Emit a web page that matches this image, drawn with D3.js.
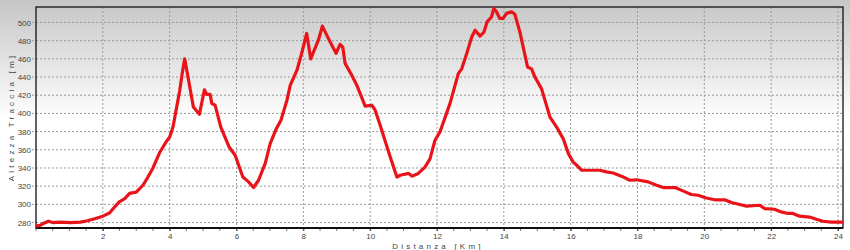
<!DOCTYPE html>
<html>
<head>
<meta charset="utf-8">
<script src="https://cdn.jsdelivr.net/npm/d3@7"></script>
<style>
  body { margin: 0; background: #fff; }
  svg { display: block; }
  .tick text { font-family: "Liberation Sans", Arial, sans-serif; font-size: 8px; fill: #444; }
  .label { font-family: "Liberation Sans", Arial, sans-serif; font-size: 8px; fill: #444; letter-spacing: 3.2px; }
</style>
</head>
<body>
<div class="chart"></div>
<script>
// track profile: distance (km) and altitude (m)
const dist = [0, 0.13, 0.22, 0.37, 0.5, 0.73, 1.03, 1.33, 1.54, 1.78, 2.0, 2.2, 2.35, 2.5, 2.65, 2.8, 3.0, 3.2, 3.35, 3.5, 3.7, 3.9, 4.0, 4.1, 4.2, 4.3, 4.38, 4.45,
  4.71, 4.89, 5.04, 5.11, 5.21, 5.26, 5.36, 5.53, 5.78, 5.96, 6.19, 6.36, 6.51, 6.66, 6.86, 7.01, 7.19, 7.33, 7.51, 7.61, 7.81, 7.95, 8.1, 8.22,
  8.45, 8.57, 8.8, 8.98, 9.1, 9.18, 9.25, 9.45, 9.6, 9.85, 10.05, 10.15, 10.3, 10.6, 10.8, 10.9, 11.15, 11.26, 11.44, 11.64, 11.79, 11.94,
  12.09, 12.39, 12.64, 12.74, 12.89, 13.04, 13.14, 13.29, 13.41, 13.5, 13.63, 13.7, 13.78, 13.88, 13.98, 14.08, 14.23, 14.33, 14.48, 14.6,
  14.71, 14.83, 14.93, 15.13, 15.38, 15.58, 15.78, 15.93, 16.07, 16.18, 16.33, 16.87, 17.07, 17.27, 17.52, 17.77, 17.97, 18.32, 18.57, 18.77,
  19.12, 19.36, 19.61, 19.81, 20.06, 20.31, 20.61, 20.81, 21.06, 21.26, 21.66, 21.81, 22.1, 22.3, 22.5, 22.65, 22.85, 23.15, 23.35, 23.55,
  23.8, 24.15]
const alt = [276, 277, 279, 281.5, 280, 280.5, 280, 280.5, 282, 284.5, 287, 290.5, 297, 303, 306, 312, 313.5, 321, 330, 340, 357, 369, 374, 385, 405, 425, 445, 460,
  407, 399, 426, 421, 421, 411, 409, 385, 363, 354, 330, 324.7, 318.5, 326.5, 345, 367, 383, 392.5, 414.5, 431, 447.5, 466, 488, 460,
  480.5, 496, 478.7, 466, 476, 473, 455, 442, 431, 408, 409, 403.5, 387, 352, 330, 332, 334, 331, 334, 341, 350, 370.5,
  379.7, 411, 444, 449, 466, 484, 491.5, 485, 489.7, 500.7, 506, 515.4, 511.7, 504.4, 504.4, 510, 511.7, 509, 489.7, 469.5,
  451, 449, 440, 427, 396, 385, 372, 356, 346.7, 343, 337.5, 337.5, 335.7, 334.5, 331, 326.5, 327, 324.7, 321, 318.5,
  318.5, 314.8, 310.8, 310, 307, 305, 305, 302, 299.8, 298, 299, 295.4, 294.6, 291.7, 290, 290, 287, 286, 283.6, 281.4,
  280.5, 280.5]
const xTicks = [2, 4, 6, 8, 10, 12, 14, 16, 18, 20, 22, 24]
const yTicks = [280, 300, 320, 340, 360, 380, 400, 420, 440, 460, 480, 500]
const xTitle = 'Distanza [Km]'
const yTitle = 'Altezza Traccia [m]'

const W = 850, H = 250
const margin = {top: 7, right: 7, bottom: 22, left: 36}
const width = W - margin.left - margin.right
const height = H - margin.top - margin.bottom

const data = dist.map((d, i) => ({d: d, a: alt[i]}))

const svg = d3.select('.chart').append('svg')
  .attr('width', W)
  .attr('height', H)

// background gradient
const grad = svg.append('defs').append('linearGradient')
  .attr('id', 'bg').attr('x1', 0).attr('y1', 0).attr('x2', 0).attr('y2', 1)
grad.append('stop').attr('offset', '0%').attr('stop-color', '#c6c6c6')
grad.append('stop').attr('offset', '48%').attr('stop-color', '#ffffff')
grad.append('stop').attr('offset', '100%').attr('stop-color', '#ffffff')
svg.append('rect').attr('width', W).attr('height', H).attr('fill', 'url(#bg)')

const g = svg.append('g')
  .attr('transform', 'translate(' + margin.left + ',' + margin.top + ')')

const xScale = d3.scaleLinear().domain([0, 24.15]).range([0, width])
const yScale = d3.scaleLinear().domain([274, 517]).range([height, 0])

// grid
g.append('g').selectAll('line').data(yTicks).enter().append('line')
  .attr('x1', -4).attr('x2', width)
  .attr('y1', d => yScale(d)).attr('y2', d => yScale(d))
  .attr('stroke', '#9a9a9a').attr('stroke-dasharray', '2,2')
g.append('g').selectAll('line').data(xTicks).enter().append('line')
  .attr('y1', 0).attr('y2', height)
  .attr('x1', d => xScale(d)).attr('x2', d => xScale(d))
  .attr('stroke', '#9a9a9a').attr('stroke-dasharray', '2,2')

// x axis with minor ticks
const xAxis = d3.axisBottom(xScale).tickValues(xTicks).tickSize(3).tickPadding(2)
g.append('g')
  .attr('transform', 'translate(0,' + height + ')')
  .call(xAxis)
  .call(a => a.select('.domain').remove())
  .call(a => a.selectAll('.tick line').attr('stroke', '#444'))
g.append('g').selectAll('line').data(d3.range(0, 24.01, 0.5)).enter().append('line')
  .attr('x1', d => xScale(d)).attr('x2', d => xScale(d))
  .attr('y1', height).attr('y2', height + 3)
  .attr('stroke', '#555').attr('stroke-width', 0.8)

// y axis
const yAxis = d3.axisLeft(yScale).tickValues(yTicks).tickSize(0).tickPadding(5)
g.append('g')
  .call(yAxis)
  .call(a => a.select('.domain').remove())

// frame
g.append('rect').attr('width', width).attr('height', height)
  .attr('fill', 'none').attr('stroke', '#111').attr('stroke-width', 1.3)
g.append('line').attr('x1', 0).attr('x2', width).attr('y1', height).attr('y2', height)
  .attr('stroke', '#111').attr('stroke-width', 2)

// profile line
const line = d3.line().x(d => xScale(d.d)).y(d => yScale(d.a))
g.append('path').datum(data)
  .attr('d', line)
  .attr('fill', 'none')
  .attr('stroke', '#e8141a')
  .attr('stroke-width', 3.2)
  .attr('stroke-linejoin', 'round')

// titles
svg.append('text').attr('class', 'label')
  .attr('x', 438).attr('y', 249)
  .attr('text-anchor', 'middle')
  .text(xTitle)
svg.append('text').attr('class', 'label')
  .attr('transform', 'translate(14,117) rotate(-90)')
  .attr('text-anchor', 'middle')
  .text(yTitle)
</script>
</body>
</html>
